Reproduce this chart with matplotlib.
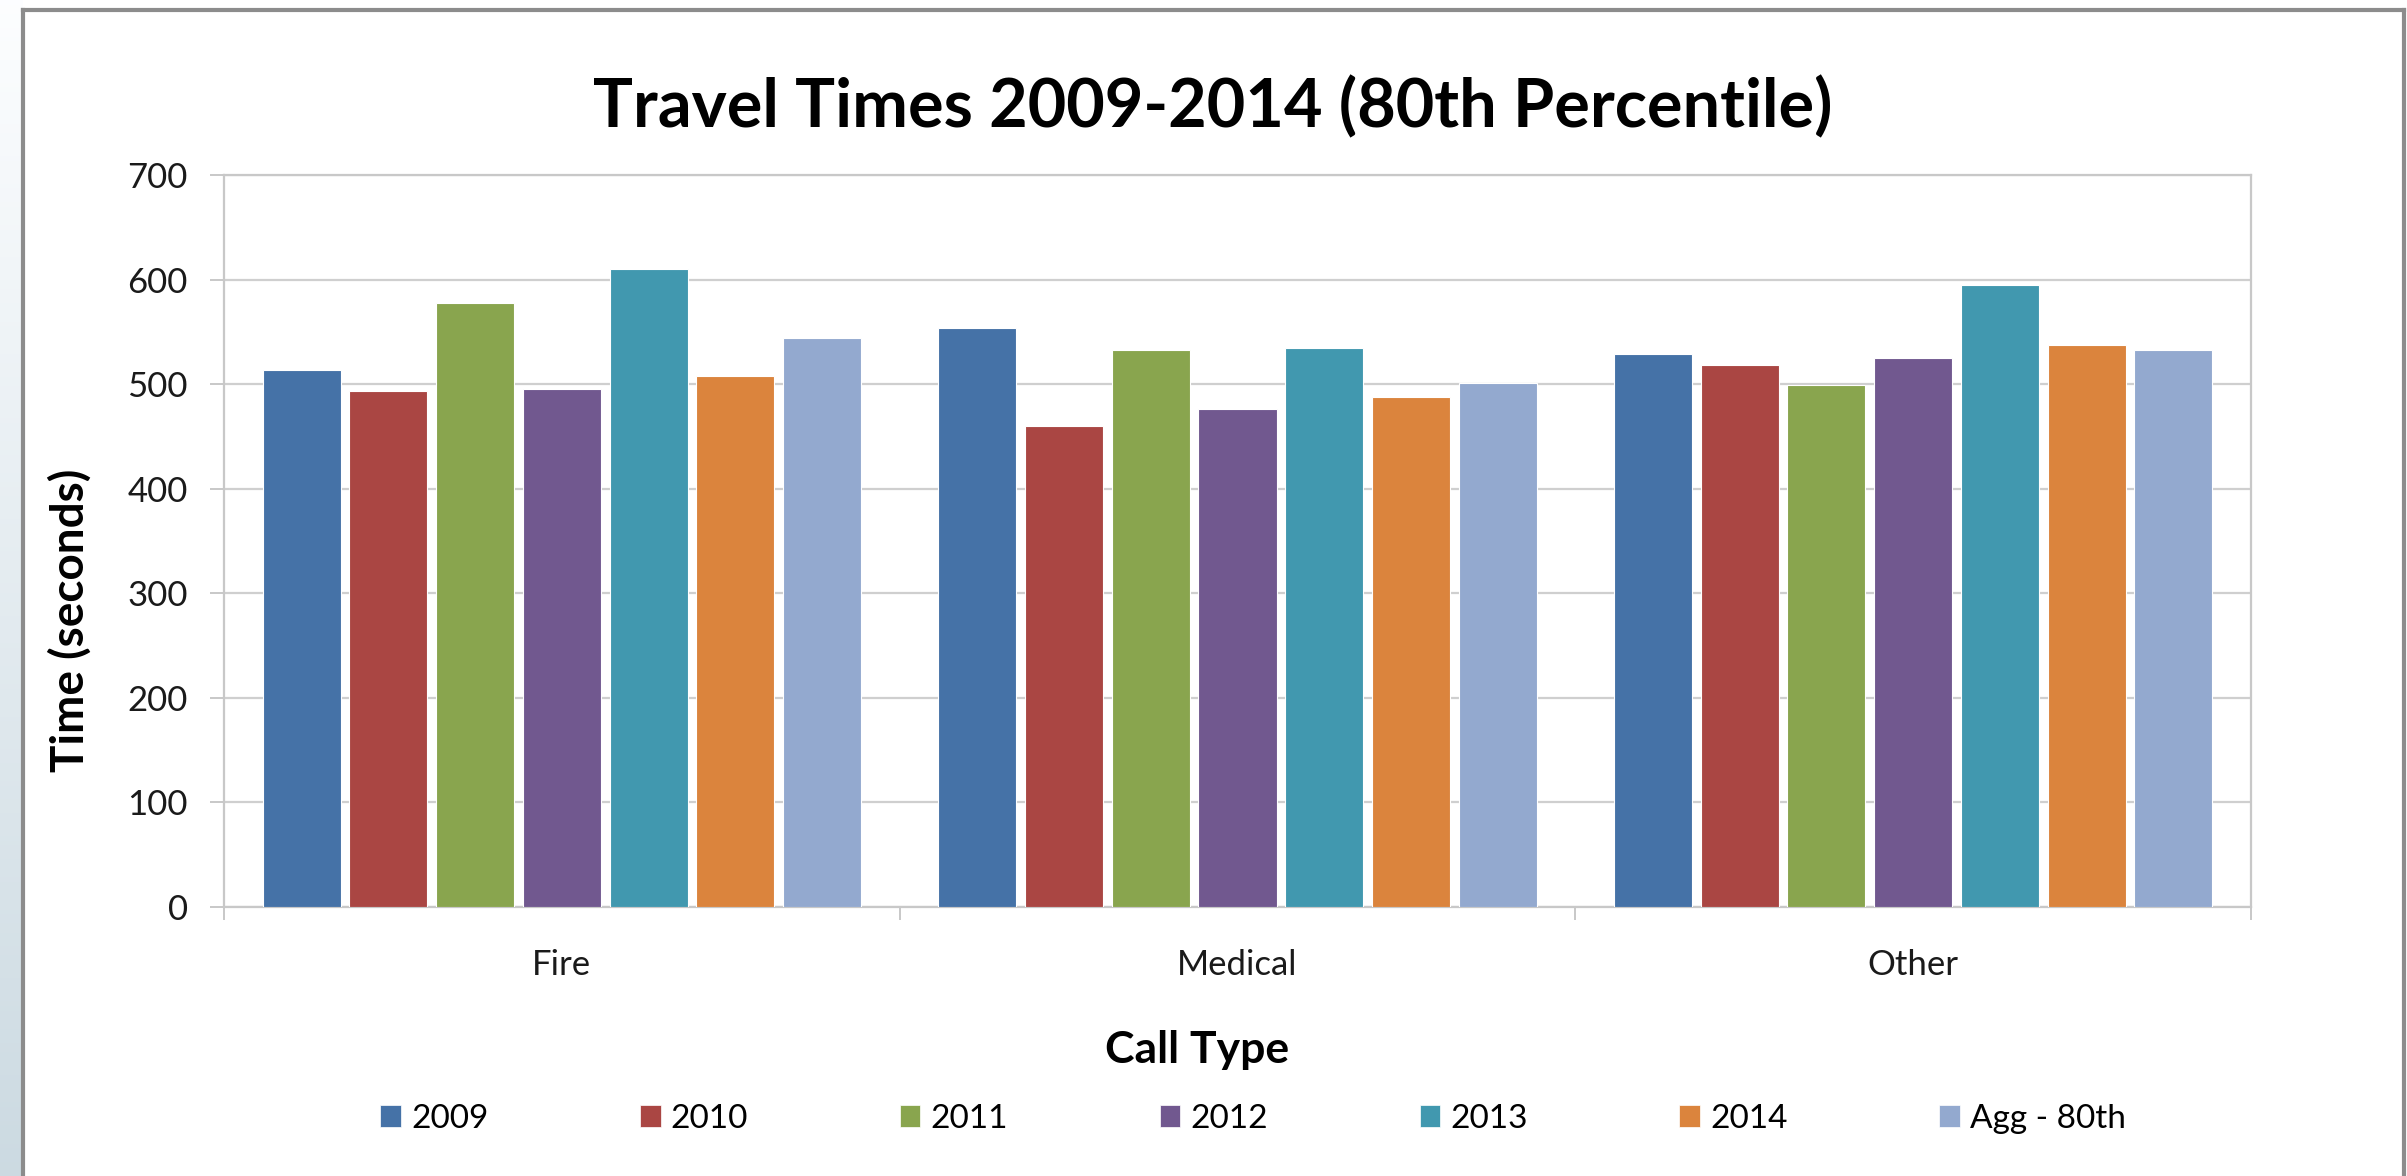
import numpy as np
import matplotlib
matplotlib.use("Agg")
import matplotlib.pyplot as plt
from matplotlib.patches import Patch
from matplotlib.lines import Line2D

plt.rcParams['font.family'] = ['Lato', 'DejaVu Sans']

categories = ["Fire", "Medical", "Other"]
series_names = ["2009", "2010", "2011", "2012", "2013", "2014", "Agg - 80th"]
v2009 = [514, 554, 529]
v2010 = [493, 460, 518]
v2011 = [578, 533, 499]
v2012 = [495, 476, 525]
v2013 = [610, 535, 595]
v2014 = [508, 488, 537]
vagg = [544, 501, 533]
series_values = [v2009, v2010, v2011, v2012, v2013, v2014, vagg]
colors = ["#4572A7", "#AA4643", "#89A54E", "#71588F", "#4198AF", "#DB843D", "#93A9CF"]
yticks = [0, 100, 200, 300, 400, 500, 600, 700]

W, H = 2407, 1176
fig = plt.figure(figsize=(W / 100, H / 100), dpi=100)
fig.patch.set_facecolor("white")

# left gradient strip
gax = fig.add_axes([0, 0, 23 / W, 1])
grad = np.linspace(0, 1, 256).reshape(-1, 1)
top = np.array([0.99, 0.995, 1.0])
bot = np.array([0.80, 0.855, 0.885])
img = top[None, None, :] * (1 - grad[:, :, None]) + bot[None, None, :] * grad[:, :, None]
gax.imshow(img, aspect="auto", extent=[0, 1, 0, 1], origin="upper")
gax.axis("off")

# frame
fx0, fx1, fy = 23 / W, 2404 / W, 1 - 10 / H
fig.add_artist(Line2D([fx0, fx0], [0, fy], transform=fig.transFigure, color="#8c8c8c", lw=3))
fig.add_artist(Line2D([fx0, fx1], [fy, fy], transform=fig.transFigure, color="#8c8c8c", lw=3))
fig.add_artist(Line2D([fx1, fx1], [0, fy], transform=fig.transFigure, color="#8c8c8c", lw=3))

ax = fig.add_axes([224 / W, 1 - 907 / H, (2251 - 224) / W, (907 - 175) / H])
x = np.arange(len(categories))
step = 0.1284
width = 0.1155
for i, (name, vals, c) in enumerate(zip(series_names, series_values, colors)):
    ax.bar(x + (i - 3) * step, vals, width=width, color=c, edgecolor="white",
           linewidth=0.8, label=name, zorder=3)

ax.set_xlim(-0.5, 2.5)
ax.set_ylim(0, 700)
ax.set_yticks(yticks)
ax.set_yticklabels([str(t) for t in yticks], fontsize=25, color="#1a1a1a")
ax.set_xticks(x)
ax.set_xticklabels(categories, fontsize=25, color="#1a1a1a")
ax.set_xticks([-0.5, 0.5, 1.5, 2.5], minor=True)
ax.tick_params(axis="x", which="major", length=0, pad=30)
ax.tick_params(axis="x", which="minor", length=9, width=1.4, color="#c8c8c8")
ax.tick_params(axis="y", which="major", length=10, width=1.4, color="#c8c8c8", pad=16)
ax.grid(axis="y", color="#cfcfcf", linewidth=1.6, zorder=0)
for s in ax.spines.values():
    s.set_color("#c8c8c8")
    s.set_linewidth(1.6)

fig.text(1213 / W, 1 - 108 / H, "Travel Times 2009-2014 (80th Percentile)",
         ha="center", va="center", fontsize=48, fontweight="bold", color="black")
fig.text(70 / W, 1 - 620 / H, "Time (seconds)", rotation=90, ha="center", va="center",
         fontsize=33, fontweight="bold", color="black")
fig.text(1197 / W, 1 - 1050 / H, "Call Type", ha="center", va="center",
         fontsize=32, fontweight="bold", color="black")

handles = [Patch(facecolor=c, edgecolor="white", linewidth=0.5) for c in colors]
fig.legend(handles, series_names, loc="center", bbox_to_anchor=(1253 / W, 1 - 1119 / H),
           ncol=7, frameon=False, fontsize=24, handlelength=0.62, handleheight=0.62,
           handletextpad=0.3, columnspacing=4.55, borderaxespad=0)

fig.savefig("out.png", dpi=100)
